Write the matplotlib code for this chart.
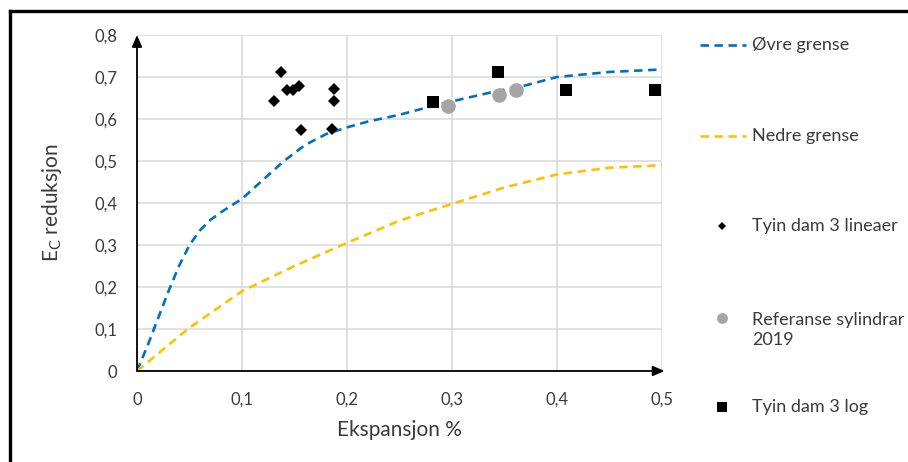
import numpy as np
import matplotlib
matplotlib.use("Agg")
import matplotlib.pyplot as plt
from matplotlib.lines import Line2D

plt.rcParams['font.family'] = ['Lato', 'DejaVu Sans']

# ——— Data ———
ovre_x = [0, 0.01, 0.02, 0.03, 0.04, 0.05, 0.06, 0.07, 0.08, 0.1, 0.12, 0.14, 0.16, 0.18, 0.2, 0.22, 0.25, 0.28, 0.3, 0.34, 0.37, 0.4, 0.45, 0.5]
ovre_y = [0, 0.06, 0.125, 0.19, 0.25, 0.30, 0.335, 0.36, 0.378, 0.41, 0.455, 0.50, 0.538, 0.564, 0.58, 0.594, 0.61, 0.63, 0.642, 0.665, 0.68, 0.70, 0.712, 0.718]

nedre_x = [0, 0.05, 0.1, 0.15, 0.2, 0.25, 0.3, 0.35, 0.4, 0.45, 0.5]
nedre_y = [0, 0.103, 0.19, 0.25, 0.305, 0.358, 0.398, 0.437, 0.468, 0.484, 0.49]

lin_x = [0.130, 0.137, 0.143, 0.149, 0.154, 0.156, 0.188, 0.188, 0.186]
lin_y = [0.643, 0.713, 0.670, 0.669, 0.679, 0.575, 0.671, 0.642, 0.577]

ref_x = [0.2965, 0.3445, 0.3607]
ref_y = [0.630, 0.657, 0.669]

log_x = [0.282, 0.344, 0.409, 0.493]
log_y = [0.641, 0.712, 0.669, 0.669]

BLUE = '#0070C0'
YELLOW = '#FFC000'
GREY = '#A5A5A5'
TXT = '#3A3A3A'
W, H = 908, 462

fig = plt.figure(figsize=(W/100, H/100), dpi=100)
ax = fig.add_axes([137/W, (H-371)/H, (662-137)/W, (371-35)/H])

ax.plot(ovre_x, ovre_y, color=BLUE, lw=1.9, dashes=(3.2, 2.1), zorder=3)
ax.plot(nedre_x, nedre_y, color=YELLOW, lw=1.9, dashes=(3.2, 2.1), zorder=3)
ax.plot(lin_x, lin_y, 'D', color='black', ms=5.8, mew=0, zorder=4)
ax.plot(ref_x, ref_y, 'o', color=GREY, ms=10.5, mew=0, zorder=4)
ax.plot(log_x, log_y, 's', color='black', ms=9.2, mew=0, zorder=4)

ax.set_xlim(0, 0.5)
ax.set_ylim(0, 0.8)
ax.set_xticks(np.arange(0, 0.51, 0.1))
ax.set_yticks(np.arange(0, 0.81, 0.1))
ax.set_xticklabels(['0', '0,1', '0,2', '0,3', '0,4', '0,5'])
ax.set_yticklabels(['0', '0,1', '0,2', '0,3', '0,4', '0,5', '0,6', '0,7', '0,8'])
ax.tick_params(length=0, labelsize=12, labelcolor=TXT)
ax.tick_params(axis='x', pad=15)
ax.tick_params(axis='y', pad=14)
ax.grid(True, color='#D9D9D9', lw=1.1)
ax.set_axisbelow(True)
for s in ax.spines.values():
    s.set_visible(False)

# axis arrows
ax.annotate('', xy=(0, 1.0), xytext=(0, 0), xycoords='axes fraction',
            arrowprops=dict(arrowstyle='-|>,head_length=0.7,head_width=0.3', color='black', lw=1.3,
                            shrinkA=0, shrinkB=0), annotation_clip=False)
ax.annotate('', xy=(1.005, 0), xytext=(0, 0), xycoords='axes fraction',
            arrowprops=dict(arrowstyle='-|>,head_length=0.7,head_width=0.3', color='black', lw=1.3,
                            shrinkA=0, shrinkB=0), annotation_clip=False)

ax.set_xlabel('Ekspansjon %', fontsize=15, color=TXT, labelpad=9)
ax.set_ylabel(r'$\mathregular{E_C}$ reduksjon', fontsize=15, color=TXT, labelpad=22)

# legend drawn in pixel space on the right
lax = fig.add_axes([0, 0, 1, 1], zorder=5)
lax.set_xlim(0, W)
lax.set_ylim(H, 0)
lax.axis('off')
lax.patch.set_alpha(0)
lx0, lx1, lm, lt = 700, 746, 722, 752
lax.plot([lx0, lx1], [45, 45], color=BLUE, lw=1.9, dashes=(3.2, 2.1))
lax.plot([lx0, lx1], [136, 136], color=YELLOW, lw=1.9, dashes=(3.2, 2.1))
lax.plot([lm], [226], 'D', color='black', ms=4.2, mew=0)
lax.plot([lm], [318], 'o', color=GREY, ms=7.8, mew=0)
lax.plot([lm], [407], 's', color='black', ms=6.8, mew=0)
fs = 13
lax.text(lt, 45, 'Øvre grense', fontsize=fs, color=TXT, va='center')
lax.text(lt, 136, 'Nedre grense', fontsize=fs, color=TXT, va='center')
lax.text(lt, 226, 'Tyin dam 3 lineaer', fontsize=fs, color=TXT, va='center')
lax.text(lt, 330, 'Referanse sylindrar\n2019', fontsize=fs, color=TXT, va='center', linespacing=1.35)
lax.text(lt, 407, 'Tyin dam 3 log', fontsize=fs, color=TXT, va='center')

# outer frame (left and top edges visible)
fig.add_artist(Line2D([10/W, 10/W], [0, 1-11/H], color='black', lw=2.4))
fig.add_artist(Line2D([10/W, 1], [1-11/H, 1-11/H], color='black', lw=2.4))

fig.savefig('out.png', dpi=100)
